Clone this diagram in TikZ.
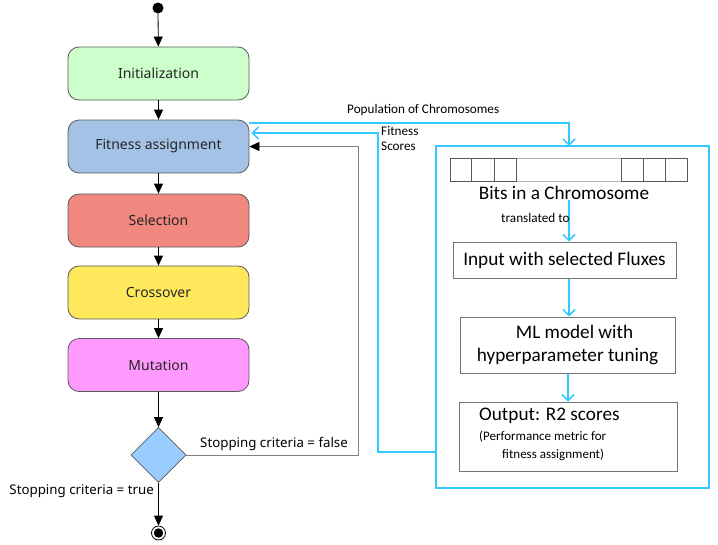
\documentclass[tikz,border=0pt]{standalone}
\usepackage{fontspec}
\setmainfont{Carlito}
\newfontfamily\robfont{Noto Sans}
\usetikzlibrary{shapes.geometric,arrows.meta,calc}
\definecolor{cinit}{RGB}{204,255,204}
\definecolor{cfit}{RGB}{164,194,229}
\definecolor{csel}{RGB}{240,136,128}
\definecolor{ccro}{RGB}{255,232,92}
\definecolor{cmut}{RGB}{255,153,255}
\definecolor{cdec}{RGB}{153,204,255}
\definecolor{cblue}{RGB}{51,200,255}
\definecolor{cedge}{RGB}{90,90,90}
\begin{document}
\begin{tikzpicture}[x=1pt,y=-1pt,
  stage/.style={draw=cedge, line width=0.8pt, rounded corners=11pt, minimum width=181pt, minimum height=53pt, inner sep=0pt, font=\robfont\fontsize{14}{16}\selectfont, text=black!85},
  blk/.style={-{Triangle[length=10pt,width=9pt,color=black]}, line width=0.8pt},
  bl/.style={draw=cblue, line width=2pt},
  blarr/.style={bl, -{Straight Barb[length=6pt,width=12pt,line width=1.5pt]}},
  wbox/.style={draw=gray!90!black, line width=1pt, inner sep=0pt},
  small/.style={font=\fontsize{13.2}{15}\selectfont},
  big/.style={font=\fontsize{19.2}{21}\selectfont},
]
\useasboundingbox (0,0) rectangle (718,544);

% left flow
\node (start) [circle, fill=black, minimum size=11pt, inner sep=0pt] at (158,8) {};
\node (init) [stage, fill=cinit] at (158.5,73.5) {Initialization};
\node (fit)  [stage, fill=cfit]  at (158.5,146.5) {Fitness assignment};
\node (sel)  [stage, fill=csel]  at (158.5,220.5) {Selection};
\node (cro)  [stage, fill=ccro]  at (158.5,292.5) {Crossover};
\node (mut)  [stage, fill=cmut]  at (158.5,365) {Mutation};
\node (dec)  [diamond, draw=cedge, line width=0.8pt, fill=cdec, minimum width=55pt, minimum height=55pt, inner sep=0pt] at (158.5,455) {};
\node (end)  [circle, draw=black, line width=0.8pt, minimum size=14pt, inner sep=0pt] at (158.5,533) {};
\fill (end.center) circle (4.7pt);

\draw[blk] (start) -- (init);
\draw[blk] (init) -- (fit);
\draw[blk] (fit) -- (sel);
\draw[blk] (sel) -- (cro);
\draw[blk] (cro) -- (mut);
\draw[blk] (mut) -- (dec);
\draw[blk] (dec) -- (end);

\coordinate (loopc) at (358,146.5);
\draw[blk, draw=gray] (dec.east) -| (loopc) -- (fit.east);
\node (lfalse) [anchor=south west, inner sep=1pt, font=\robfont\fontsize{13.3}{15}\selectfont] at (199,452) {Stopping criteria = false};
\node (ltrue) [anchor=east, inner sep=1pt, font=\robfont\fontsize{13.3}{15}\selectfont] at (155,491) {Stopping criteria = true};

% right box
\node (big) [draw=cblue, line width=2pt, minimum width=273pt, minimum height=342pt, inner sep=0pt] at (572.5,317) {};
\coordinate (bigtop) at (569,146);
\coordinate (fitout) at ($(fit.east)+(0,-23.5)$);
\coordinate (fitin) at ($(fit.east)+(2,-13.5)$);
\coordinate (bigleft) at (436,452);
\coordinate (fsx) at (378,452);

\draw[blarr] (fitout) -| (bigtop);
\draw[blarr] (bigleft) -- (fsx) |- (fitin);
\node (lpop) [small, anchor=west, inner sep=0pt] at (347,110) {Population of Chromosomes};
\node (lfs) [small, anchor=north west, align=left, inner sep=0pt] at (381,126) {Fitness\\Scores};

% bits bar
\node (bits) [draw=gray!60, line width=1pt, minimum width=237pt, minimum height=23pt, inner sep=0pt] at (568.5,169.5) {};
\foreach \a/\b in {450/471,471/494,494/516,621/643,643/665,665/687}
  \draw[draw=gray!70!black, line width=1pt] (\a,158) rectangle (\b,181);
\node (bitslbl) [big, inner sep=0pt] at (564,193) {Bits in a Chromosome};
\coordinate (bitsdown) at (569,200);

\node (inp) [wbox, minimum width=223pt, minimum height=36pt, big] at (564.5,260) {Input with selected Fluxes};
\node (ml) [wbox, minimum width=215pt, minimum height=56pt, align=center, font=\fontsize{19.2}{23}\selectfont] at (567.5,345) {\hspace*{14pt}ML model with\\hyperparameter tuning};
\node (out) [wbox, minimum width=218pt, minimum height=69pt] at (568,436.5) {};
\node (outt) [anchor=west, inner sep=0pt, big] at (479,416) {Output: R2 scores};
\node (outa) [anchor=west, inner sep=0pt, font=\fontsize{13}{15}\selectfont] at (479,437) {(Performance metric for};
\node (outb) [anchor=west, inner sep=0pt, font=\fontsize{13}{15}\selectfont] at (502,455) {fitness assignment)};

\draw[blarr] (bitsdown) -- (inp.north -| bitsdown);
\node (ltrans) [small, anchor=west, inner sep=0pt] at (501,218) {translated to};
\coordinate (inpx) at (569,278);
\draw[blarr] (inp.south -| inpx) -- (ml.north -| inpx);
\coordinate (mlx) at (568,373);
\draw[blarr] (ml.south -| mlx) -- (out.north -| mlx);
\end{tikzpicture}
\end{document}
